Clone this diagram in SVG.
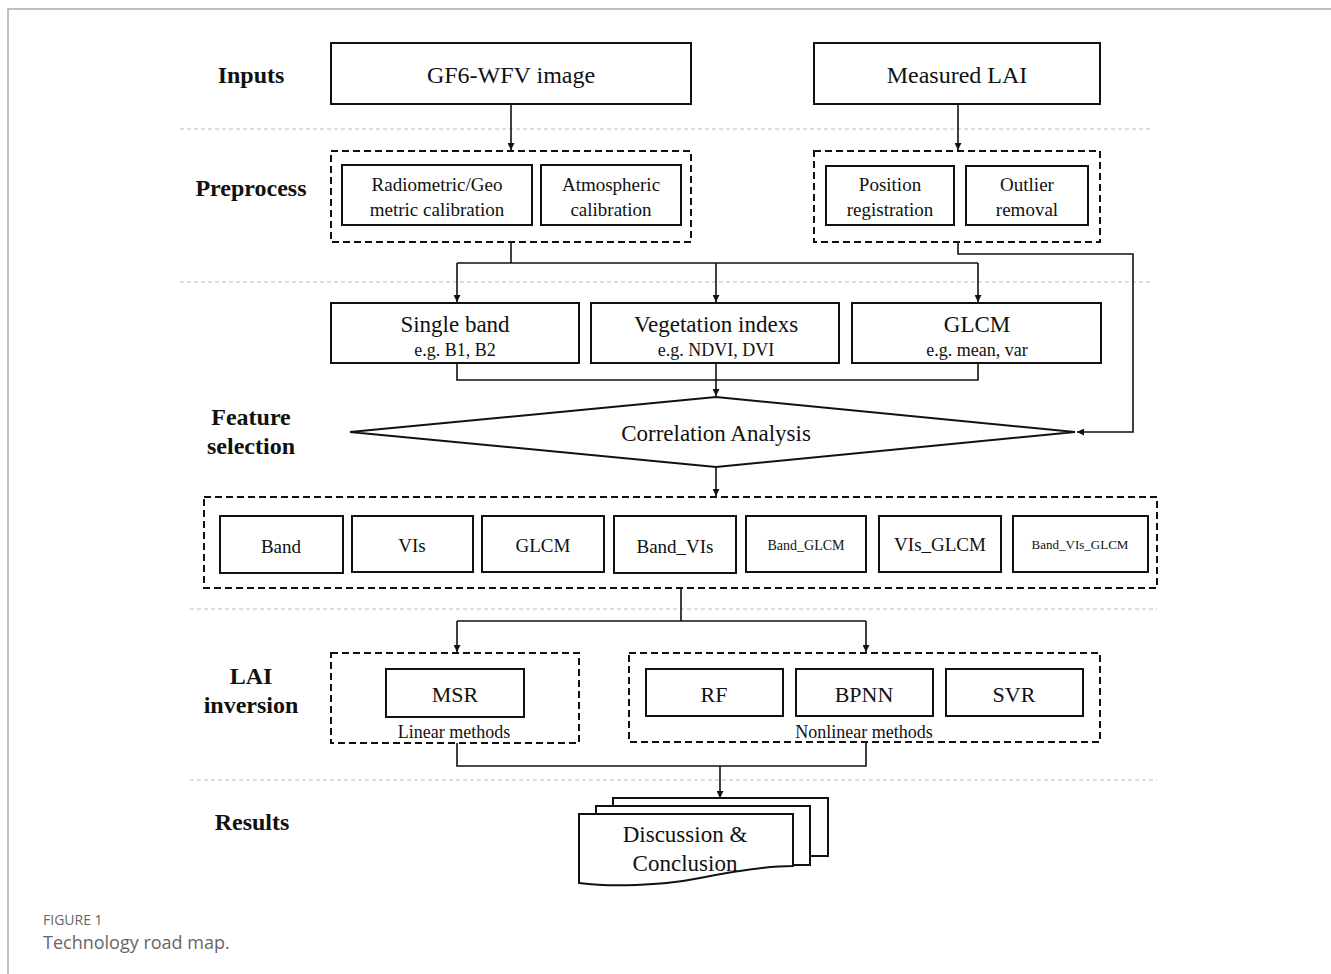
<svg xmlns="http://www.w3.org/2000/svg" width="1331" height="974" viewBox="0 0 1331 974">
<defs>
<marker id="ah" viewBox="0 0 10 10" refX="10" refY="5" markerWidth="7" markerHeight="7" markerUnits="userSpaceOnUse" orient="auto">
<path d="M0,0 L10,5 L0,10 z" fill="#111"/>
</marker>
<style>
.box{fill:#fff;stroke:#111;stroke-width:2}
.dbox{fill:none;stroke:#111;stroke-width:2;stroke-dasharray:7 4}
.sep{stroke:#bbb;stroke-width:1;stroke-dasharray:4 3;fill:none}
.ln{fill:none;stroke:#111;stroke-width:1.6}
.t{font-family:"Liberation Serif","Times New Roman",serif;fill:#111;text-anchor:middle}
.lb{font-family:"Liberation Serif","Times New Roman",serif;fill:#111;text-anchor:middle;font-weight:bold;font-size:24px}
.cap{font-family:"Open Sans","Liberation Sans",sans-serif;fill:#666}
</style>
</defs>
<rect width="1331" height="974" fill="#fff"/>
<path d="M8,974 V9 H1331" fill="none" stroke="#aaa" stroke-width="1.5"/>

<g id="separators">
<line class="sep" x1="180" y1="129" x2="1150" y2="129"/>
<line class="sep" x1="180" y1="282" x2="1150" y2="282"/>
<line class="sep" x1="190" y1="609" x2="1157" y2="609"/>
<line class="sep" x1="190" y1="780" x2="1157" y2="780"/>
</g>

<g id="labels">
<text class="lb" x="251" y="83">Inputs</text>
<text class="lb" x="251" y="196">Preprocess</text>
<text class="lb" x="251" y="425">Feature</text>
<text class="lb" x="251" y="454">selection</text>
<text class="lb" x="251" y="684">LAI</text>
<text class="lb" x="251" y="713">inversion</text>
<text class="lb" x="252" y="830">Results</text>
</g>

<g id="connectors">
<line class="ln" x1="511" y1="104" x2="511" y2="150" marker-end="url(#ah)"/>
<line class="ln" x1="958" y1="104" x2="958" y2="150" marker-end="url(#ah)"/>
<polyline class="ln" points="511,242 511,263"/>
<polyline class="ln" points="457,263 978,263"/>
<line class="ln" x1="457" y1="263" x2="457" y2="302" marker-end="url(#ah)"/>
<line class="ln" x1="716" y1="263" x2="716" y2="302" marker-end="url(#ah)"/>
<line class="ln" x1="978" y1="263" x2="978" y2="302" marker-end="url(#ah)"/>
<polyline class="ln" points="958,242 958,254 1133,254 1133,432 1077,432" marker-end="url(#ah)"/>
<polyline class="ln" points="457,363 457,380 978,380 978,363"/>
<line class="ln" x1="716" y1="363" x2="716" y2="396" marker-end="url(#ah)"/>
<line class="ln" x1="716" y1="467" x2="716" y2="496" marker-end="url(#ah)"/>
<polyline class="ln" points="681,588 681,621"/>
<polyline class="ln" points="457,621 866,621"/>
<line class="ln" x1="457" y1="621" x2="457" y2="652" marker-end="url(#ah)"/>
<line class="ln" x1="866" y1="621" x2="866" y2="652" marker-end="url(#ah)"/>
<polyline class="ln" points="457,743 457,766 866,766 866,743"/>
<line class="ln" x1="720" y1="766" x2="720" y2="798" marker-end="url(#ah)"/>
</g>

<g id="gf6">
<rect class="box" x="331" y="43" width="360" height="61"/>
<text class="t" x="511" y="83" font-size="24">GF6-WFV image</text>
</g>
<g id="measured">
<rect class="box" x="814" y="43" width="286" height="61"/>
<text class="t" x="957" y="83" font-size="24">Measured LAI</text>
</g>

<g id="preprocess-left">
<rect class="dbox" x="331" y="151" width="360" height="91"/>
<g id="radiometric">
<rect class="box" x="342" y="165" width="190" height="60"/>
<text class="t" x="437" y="191" font-size="19">Radiometric/Geo</text>
<text class="t" x="437" y="216" font-size="19">metric  calibration</text>
</g>
<g id="atmospheric">
<rect class="box" x="541" y="165" width="140" height="60"/>
<text class="t" x="611" y="191" font-size="19">Atmospheric</text>
<text class="t" x="611" y="216" font-size="19">calibration</text>
</g>
</g>

<g id="preprocess-right">
<rect class="dbox" x="814" y="151" width="286" height="91"/>
<g id="position">
<rect class="box" x="826" y="166" width="128" height="59"/>
<text class="t" x="890" y="191" font-size="19">Position</text>
<text class="t" x="890" y="216" font-size="19">registration</text>
</g>
<g id="outlier">
<rect class="box" x="966" y="166" width="122" height="59"/>
<text class="t" x="1027" y="191" font-size="19">Outlier</text>
<text class="t" x="1027" y="216" font-size="19">removal</text>
</g>
</g>

<g id="singleband">
<rect class="box" x="331" y="303" width="248" height="60"/>
<text class="t" x="455" y="332" font-size="23">Single band</text>
<text class="t" x="455" y="356" font-size="18">e.g. B1, B2</text>
</g>
<g id="vegetation">
<rect class="box" x="591" y="303" width="248" height="60"/>
<text class="t" x="716" y="332" font-size="23">Vegetation indexs</text>
<text class="t" x="716" y="356" font-size="18">e.g. NDVI, DVI</text>
</g>
<g id="glcm">
<rect class="box" x="852" y="303" width="249" height="60"/>
<text class="t" x="977" y="332" font-size="23">GLCM</text>
<text class="t" x="977" y="356" font-size="18">e.g. mean, var</text>
</g>

<g id="correlation">
<polygon class="box" points="350,432 716,397 1075,432 716,467"/>
<text class="t" x="716" y="441" font-size="23">Correlation Analysis</text>
</g>

<g id="combos">
<rect class="dbox" x="204" y="497" width="953" height="91"/>
<g id="c-band"><rect class="box" x="220" y="516" width="123" height="57"/><text class="t" x="281" y="553" font-size="19">Band</text></g>
<g id="c-vis"><rect class="box" x="352" y="516" width="121" height="56"/><text class="t" x="412" y="552" font-size="19">VIs</text></g>
<g id="c-glcm"><rect class="box" x="482" y="516" width="122" height="56"/><text class="t" x="543" y="552" font-size="19">GLCM</text></g>
<g id="c-bandvis"><rect class="box" x="614" y="516" width="122" height="57"/><text class="t" x="675" y="553" font-size="19">Band_VIs</text></g>
<g id="c-bandglcm"><rect class="box" x="746" y="516" width="120" height="56"/><text class="t" x="806" y="550" font-size="14">Band_GLCM</text></g>
<g id="c-visglcm"><rect class="box" x="879" y="516" width="122" height="56"/><text class="t" x="940" y="551" font-size="19">VIs_GLCM</text></g>
<g id="c-bandvisglcm"><rect class="box" x="1013" y="516" width="135" height="56"/><text class="t" x="1080" y="549" font-size="13">Band_VIs_GLCM</text></g>
</g>

<g id="linear">
<rect class="dbox" x="331" y="653" width="248" height="90"/>
<g id="msr"><rect class="box" x="386" y="669" width="138" height="48"/><text class="t" x="455" y="702" font-size="22">MSR</text></g>
<text class="t" x="454" y="738" font-size="18">Linear methods</text>
</g>

<g id="nonlinear">
<rect class="dbox" x="629" y="653" width="471" height="89"/>
<g id="rf"><rect class="box" x="646" y="669" width="137" height="47"/><text class="t" x="714" y="702" font-size="22">RF</text></g>
<g id="bpnn"><rect class="box" x="796" y="669" width="137" height="47"/><text class="t" x="864" y="702" font-size="22">BPNN</text></g>
<g id="svr"><rect class="box" x="946" y="669" width="137" height="47"/><text class="t" x="1014" y="702" font-size="22">SVR</text></g>
<text class="t" x="864" y="738" font-size="18">Nonlinear methods</text>
</g>

<g id="discussion">
<path class="box" d="M613,806 V798 H828 V856 H810"/>
<path class="box" d="M596,814 V806 H810 V865 H793"/>
<path class="box" d="M579,814 H793 V866 C770,866 740,870 700,878 C660,886 610,887 579,883 Z"/>
<text class="t" x="685" y="842" font-size="23">Discussion &amp;</text>
<text class="t" x="685" y="871" font-size="23">Conclusion</text>
</g>

<g id="caption">
<text class="cap" x="43" y="925" font-size="14">FIGURE 1</text>
<text class="cap" x="43" y="949" font-size="18">Technology road map.</text>
</g>
</svg>
